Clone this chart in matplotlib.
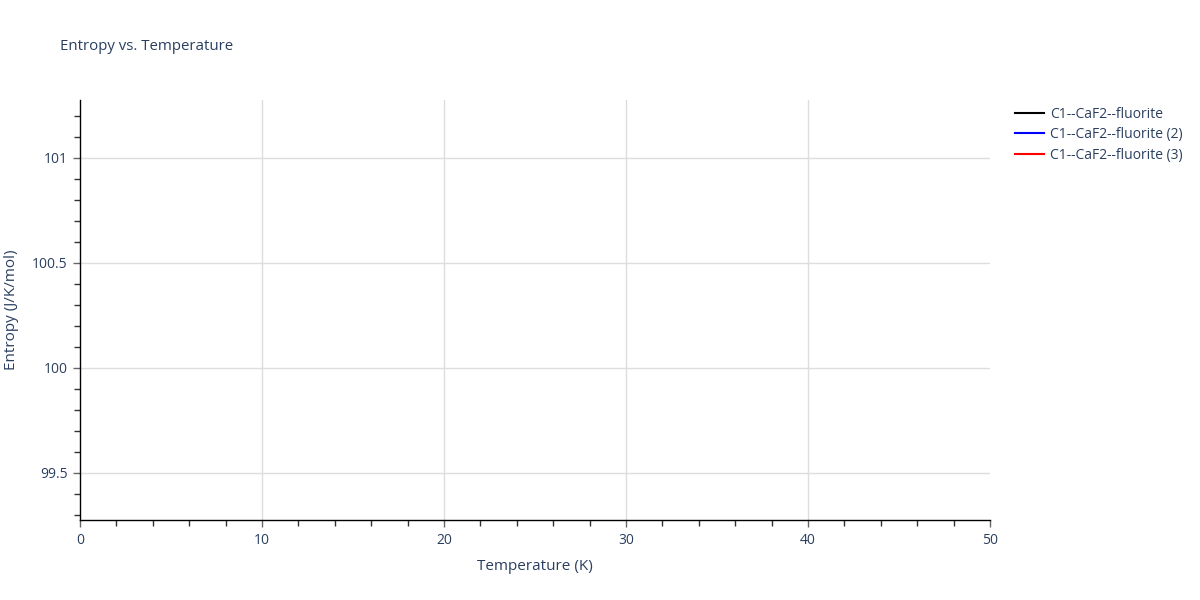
import matplotlib
matplotlib.use("Agg")
import matplotlib.pyplot as plt
from matplotlib.ticker import MultipleLocator
from matplotlib.lines import Line2D

plt.rcParams['font.family'] = ['Open Sans', 'DejaVu Sans']

# series (no points fall inside the visible window)
names = ["C1--CaF2--fluorite", "C1--CaF2--fluorite (2)", "C1--CaF2--fluorite (3)"]
colors = ["black", "blue", "red"]
temps = [[], [], []]
entropy = [[], [], []]

xlim = (0, 50)
ylim = (99.276, 101.276)
xticks = [0, 10, 20, 30, 40, 50]
yticks = [99.5, 100, 100.5, 101]
ytick_labels = ["99.5", "100", "100.5", "101"]

txt = "#2a3f5f"

fig = plt.figure(figsize=(12, 6), dpi=100)
ax = fig.add_axes([80/1200, 80/600, 910/1200, 420/600])

for t, s, c, n in zip(temps, entropy, colors, names):
    ax.plot(t, s, color=c, lw=1.5, label=n)

ax.set_xlim(*xlim)
ax.set_ylim(*ylim)
ax.set_xticks(xticks)
ax.set_xticklabels([str(v) for v in xticks])
ax.set_yticks(yticks)
ax.set_yticklabels(ytick_labels)
ax.xaxis.set_minor_locator(MultipleLocator(2))
ax.yaxis.set_minor_locator(MultipleLocator(0.1))

ax.grid(True, which="major", color="#dddddd", lw=1)
ax.get_xgridlines()[-1].set_visible(False)
ax.get_xgridlines()[0].set_visible(False)
ax.set_axisbelow(True)
for sp in ["top", "right"]:
    ax.spines[sp].set_visible(False)
for sp in ["left", "bottom"]:
    ax.spines[sp].set_color("black")
    ax.spines[sp].set_linewidth(1)

ax.tick_params(which="major", direction="out", length=5, width=1, color="#666666",
               labelsize=10, labelcolor=txt, pad=4)
ax.tick_params(which="minor", direction="out", length=4, width=1, color="#333333")

ax.set_xlabel("Temperature (K)", fontsize=11, color=txt, labelpad=8)
ax.set_ylabel("Entropy (J/K/mol)", fontsize=11, color=txt, labelpad=9)

fig.text(60/1200, 1 - 46/600, "Entropy vs. Temperature", fontsize=10.8, color=txt,
         va="center", ha="left")

handles = [Line2D([], [], color=c, lw=1.5) for c in colors]
leg = fig.legend(handles, names, loc="upper left", bbox_to_anchor=(1015/1200, 1 - 107/600),
                 frameon=False, fontsize=10, handlelength=2.1, handletextpad=0.45,
                 labelspacing=0.38, borderaxespad=0, borderpad=0)
for t in leg.get_texts():
    t.set_color(txt)

fig.savefig("out.png", dpi=100)
plt.close(fig)
